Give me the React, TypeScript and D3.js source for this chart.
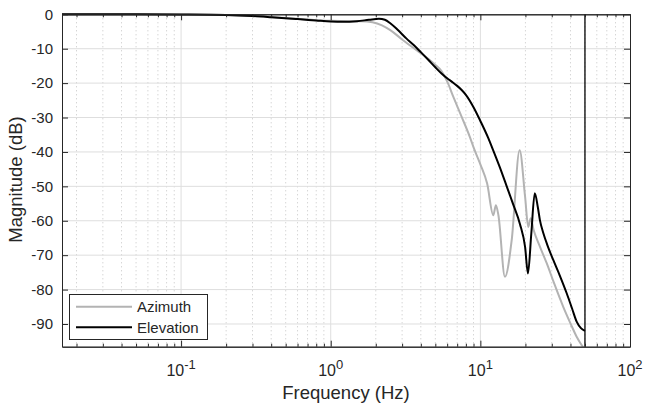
import React, { useRef, useEffect } from 'react';
import * as d3 from 'd3';

// frequency response (Hz, dB)
const azFreq = [0.016, 0.05, 0.1, 0.2, 0.3, 0.4, 0.6, 0.8, 1.0, 1.3, 1.6, 1.9, 2.2, 2.5, 3.0, 3.5, 4.0, 4.5, 5.0, 5.5, 6.0, 6.6, 7.5, 8.5, 9.1, 10, 11.1, 12.2, 12.7, 13.2, 14.6, 16.2, 18.3, 19.9, 20.9, 21.7, 22.7, 25, 27.8, 31, 35.8, 40, 44, 47, 50];
const azMag = [0, 0, -0.05, -0.2, -0.45, -0.8, -1.3, -1.7, -1.9, -2.0, -2.0, -2.3, -3.2, -4.6, -7.3, -9.5, -11.3, -13, -14.7, -16.5, -19.5, -24, -29.8, -35.6, -39.2, -43.6, -49.2, -58.4, -55.5, -58.4, -76.3, -65.6, -39.5, -53, -61.8, -59.3, -62.7, -67.5, -72.4, -78, -85, -89.8, -93.7, -95.8, -97.5];

const elFreq = [0.016, 0.05, 0.1, 0.2, 0.3, 0.4, 0.6, 0.8, 1.0, 1.2, 1.5, 1.8, 2.1, 2.3, 2.5, 2.8, 3.2, 3.6, 4.0, 4.5, 5.0, 5.5, 6.0, 6.5, 7.0, 7.5, 8.0, 9.0, 10, 11.3, 12, 13.5, 15, 16.5, 18.4, 19.9, 20.8, 21.9, 23.1, 24.2, 25, 26.4, 28, 30.7, 34, 37.7, 41, 44, 47, 50];
const elMag = [0, 0, -0.05, -0.2, -0.5, -0.85, -1.4, -1.8, -2.1, -2.2, -2.0, -1.6, -1.3, -1.6, -2.6, -4.5, -7.0, -9.0, -11.0, -13.3, -15.4, -17.2, -18.6, -19.7, -20.8, -22.0, -23.4, -27, -31, -36, -38.8, -44.5, -50, -55, -61, -67.6, -75.3, -63.7, -52, -56, -59.8, -63.7, -67, -71.4, -76, -81, -85.5, -89.3, -91.2, -92];

const nyquist = 50;
const yTicks = [0, -10, -20, -30, -40, -50, -60, -70, -80, -90];
const decades = [0.1, 1, 10, 100];
const decadeLabels = ['-1', '0', '1', '2'];

const W = 646, H = 407;
const FONT = '"Liberation Sans", Arial, Helvetica, sans-serif';

export default function App() {
    const svg_ref = useRef(null);
    useEffect(() => {
        draw(svg_ref.current);
    }, []);
    return (
        <div style={{ position: 'absolute', left: 0, top: 0 }}>
            <svg ref={svg_ref} width={W} height={H}></svg>
        </div>
    );
}

function draw(node) {
    const svg = d3.select(node);
    svg.selectAll('*').remove();
    svg.append('rect').attr('width', W).attr('height', H).attr('fill', '#fff');

    const x = d3.scaleLog().domain([0.016, 100]).range([62, 630]);
    const y = d3.scaleLinear().domain([-96.6, 0]).range([346.7, 14.3]);
    const [x0, x1] = x.range();
    const [y1, y0] = y.range();

    // minor ticks 2..9 of every decade inside the domain
    const minor = [];
    [0.01, 0.1, 1, 10].forEach(d => {
        for (let k = 2; k <= 9; k++) {
            const v = d * k;
            if (v > 0.016 && v < 100) minor.push(v);
        }
    });

    const grid = svg.append('g');
    grid.selectAll('line.minor').data(minor).enter().append('line')
        .attr('x1', d => x(d)).attr('x2', d => x(d))
        .attr('y1', y0).attr('y2', y1)
        .attr('stroke', '#c4c4c4').attr('stroke-width', 1)
        .attr('stroke-dasharray', '1,3');
    grid.selectAll('line.vmaj').data(decades.filter(d => d < 100)).enter().append('line')
        .attr('x1', d => x(d)).attr('x2', d => x(d))
        .attr('y1', y0).attr('y2', y1)
        .attr('stroke', '#dedede').attr('stroke-width', 1);
    grid.selectAll('line.hmaj').data(yTicks.filter(d => d < 0)).enter().append('line')
        .attr('x1', x0).attr('x2', x1)
        .attr('y1', d => y(d)).attr('y2', d => y(d))
        .attr('stroke', '#dedede').attr('stroke-width', 1);

    // curves
    svg.append('clipPath').attr('id', 'plotclip')
        .append('rect').attr('x', x0).attr('y', y0 - 2).attr('width', x1 - x0).attr('height', y1 - y0 + 2);

    const line = d3.line()
        .x(d => x(d[0]))
        .y(d => y(d[1]))
        .curve(d3.curveMonotoneX);

    const plot = svg.append('g').attr('clip-path', 'url(#plotclip)');
    plot.append('path')
        .datum(azFreq.map((f, i) => [f, azMag[i]]))
        .attr('d', line)
        .attr('fill', 'none').attr('stroke', '#b3b3b3').attr('stroke-width', 2);
    plot.append('path')
        .datum(elFreq.map((f, i) => [f, elMag[i]]))
        .attr('d', line)
        .attr('fill', 'none').attr('stroke', '#000').attr('stroke-width', 2);

    // nyquist marker
    svg.append('line')
        .attr('x1', x(nyquist)).attr('x2', x(nyquist))
        .attr('y1', y0).attr('y2', y1)
        .attr('stroke', '#000').attr('stroke-width', 1.3);

    // axes (ticks inward, box on)
    const axisColor = '#262626';
    const style = g => {
        g.selectAll('path').attr('stroke', axisColor);
        g.selectAll('line').attr('stroke', axisColor);
        g.selectAll('text').attr('fill', axisColor).attr('font-family', FONT).attr('font-size', 15);
    };

    svg.append('g').attr('transform', `translate(0,${y1})`)
        .call(d3.axisBottom(x).tickValues(minor).tickSize(-3).tickSizeOuter(0).tickFormat(() => '')).call(style);
    svg.append('g').attr('transform', `translate(0,${y1})`)
        .call(d3.axisBottom(x).tickValues(decades).tickSize(-6).tickSizeOuter(0).tickFormat(() => '')).call(style);
    svg.append('g').attr('transform', `translate(0,${y0})`)
        .call(d3.axisTop(x).tickValues(minor).tickSize(-3).tickSizeOuter(0).tickFormat(() => '')).call(style);
    svg.append('g').attr('transform', `translate(0,${y0})`)
        .call(d3.axisTop(x).tickValues(decades).tickSize(-6).tickSizeOuter(0).tickFormat(() => '')).call(style);
    svg.append('g').attr('transform', `translate(${x0},0)`)
        .call(d3.axisLeft(y).tickValues(yTicks).tickSize(-6).tickSizeOuter(0).tickPadding(9).tickFormat(d3.format('d'))).call(style)
        .selectAll('text').text(d => d === 0 ? '0' : '-' + Math.abs(d));
    svg.append('g').attr('transform', `translate(${x1},0)`)
        .call(d3.axisRight(y).tickValues(yTicks).tickSize(-6).tickSizeOuter(0).tickFormat(() => '')).call(style);

    // decade labels 10^n
    const lab = svg.append('g').attr('font-family', FONT).attr('fill', axisColor);
    decades.forEach((d, i) => {
        const t = lab.append('text')
            .attr('x', x(d)).attr('y', 376)
            .attr('text-anchor', 'middle').attr('font-size', 16);
        t.append('tspan').text('10');
        t.append('tspan').attr('dy', -7.5).attr('font-size', 13).text(decadeLabels[i]);
    });

    // axis titles
    svg.append('text')
        .attr('x', (x0 + x1) / 2).attr('y', 398.5)
        .attr('text-anchor', 'middle')
        .attr('font-family', FONT).attr('font-size', 18.5).attr('fill', axisColor)
        .text('Frequency (Hz)');
    svg.append('text')
        .attr('transform', `translate(21.5,${(y0 + y1) / 2 - 1}) rotate(-90)`)
        .attr('text-anchor', 'middle')
        .attr('font-family', FONT).attr('font-size', 18.5).attr('fill', axisColor)
        .text('Magnitude (dB)');

    // legend
    const lg = svg.append('g').attr('transform', 'translate(69,294)');
    lg.append('rect').attr('x', 0.5).attr('y', 0.5).attr('width', 138).attr('height', 45)
        .attr('fill', '#fff').attr('stroke', axisColor).attr('stroke-width', 1);
    const entries = [['Azimuth', '#b3b3b3'], ['Elevation', '#000']];
    entries.forEach(([name, color], i) => {
        const yy = 12.7 + i * 20.6;
        lg.append('line').attr('x1', 7).attr('x2', 63).attr('y1', yy).attr('y2', yy)
            .attr('stroke', color).attr('stroke-width', 2);
        lg.append('text').attr('x', 68).attr('y', yy + 5.3)
            .attr('font-family', FONT).attr('font-size', 15).attr('fill', axisColor)
            .text(name);
    });
}
